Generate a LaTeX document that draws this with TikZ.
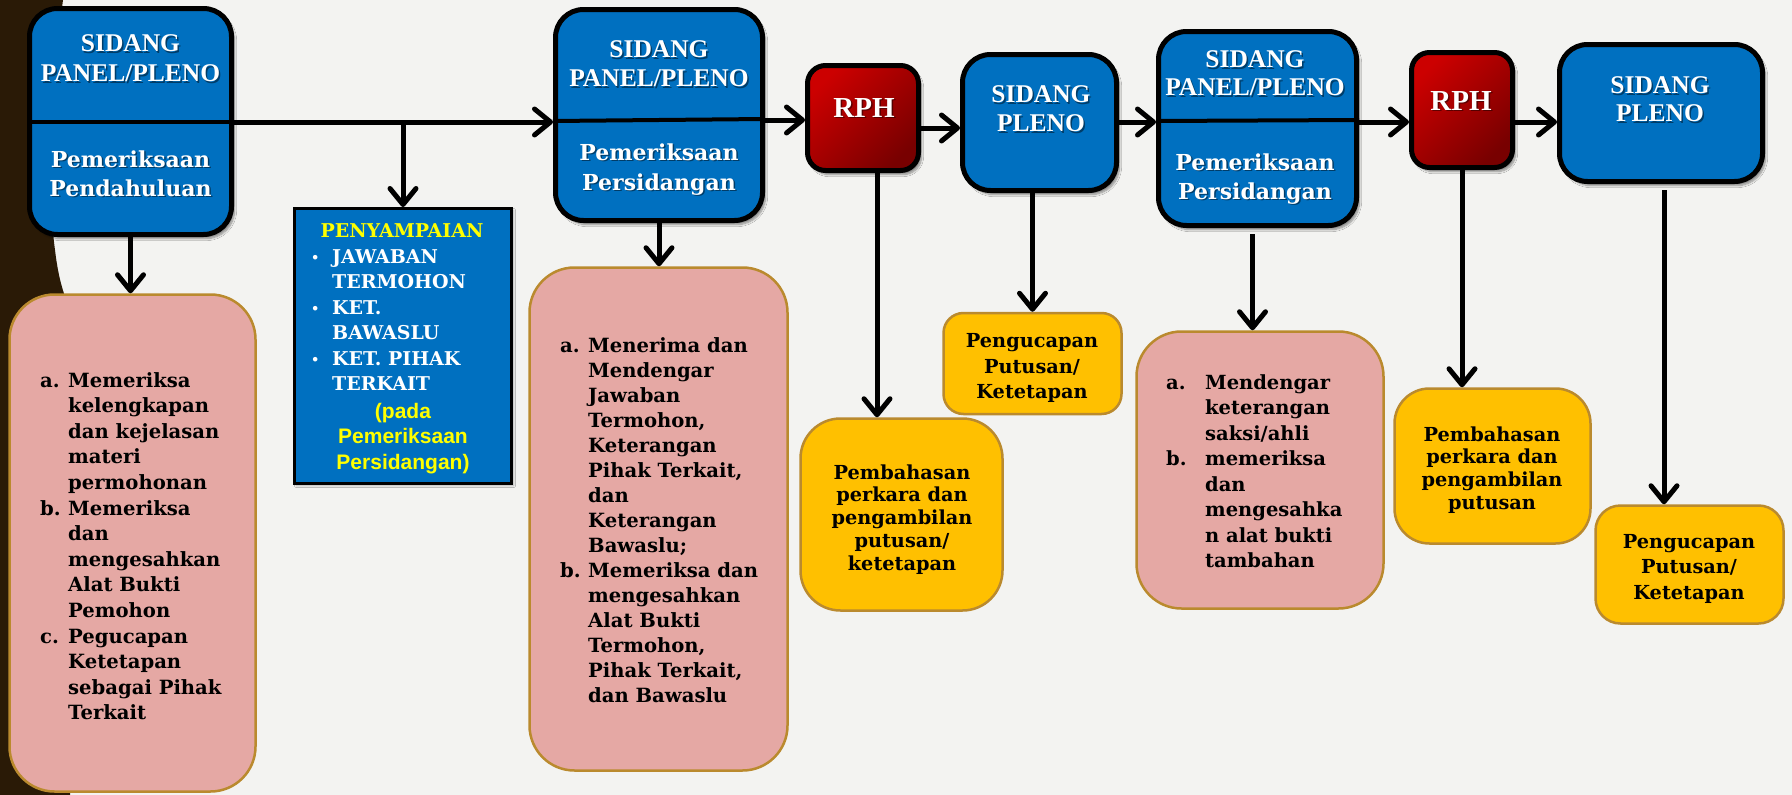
\documentclass[tikz,border=0pt]{standalone}
\usepackage{fontspec}
\setmainfont{DejaVu Serif}
\newfontfamily\tms{Liberation Serif}
\newfontfamily\lsans{Liberation Sans}
\usetikzlibrary{arrows.meta,shadows.blur,calc}
\definecolor{bgc}{HTML}{F3F3F1}
\definecolor{brownbg}{HTML}{2A1A06}
\definecolor{boxblue}{HTML}{0070C0}
\definecolor{pinkf}{HTML}{E5A8A4}
\definecolor{goldb}{HTML}{BA8A2E}
\definecolor{yell}{HTML}{FFC000}
\definecolor{rphA}{HTML}{CC0000}
\definecolor{rphB}{HTML}{780000}
\definecolor{penyyel}{HTML}{FFFF00}
\newcommand\ctab[1]{\begin{tabular}[t]{@{}c@{}}#1\end{tabular}}
\newcommand\ltab[1]{\begin{tabular}[t]{@{}l@{}}#1\end{tabular}}
\newcommand\shtxt[4]{%
  \node[#3,text=black,text opacity=0.45] (#1s) at ($#2+(1.5,1.5)$) {#4};
  \node[#3] (#1) at #2 {#4};}
\newcommand\bul{\makebox[21pt][l]{\raisebox{1pt}{\fontsize{13}{13}\selectfont •}}}
\tikzset{
  blubox/.style={draw=black, line width=5pt, fill=boxblue, rounded corners=28pt, inner sep=0pt,
    blur shadow={shadow xshift=3pt,shadow yshift=-4pt,shadow opacity=45,shadow blur steps=8}},
  rphbox/.style={draw=black, line width=5pt, rounded corners=18pt, inner sep=0pt,
    top color=rphA, bottom color=rphB, shading angle=45,
    blur shadow={shadow xshift=3pt,shadow yshift=-4pt,shadow opacity=45,shadow blur steps=8}},
  pinkbox/.style={draw=goldb, line width=2.5pt, fill=pinkf, rounded corners=45pt, inner sep=0pt},
  yelbox/.style={draw=goldb, line width=2.5pt, fill=yell, inner sep=0pt},
  arr/.style={line width=5pt, -{Straight Barb[length=16pt,width=26pt,round]}},
  divl/.style={line width=4pt},
  wt/.style={text=white, inner sep=0pt, anchor=base},
  hdr/.style={wt, font=\tms\bfseries\fontsize{25.5}{29}\selectfont},
  sub/.style={wt, font=\bfseries\fontsize{22}{29}\selectfont},
  rphtxt/.style={wt, font=\tms\bfseries\fontsize{29}{30}\selectfont},
  bk/.style={text=black, inner sep=0pt, font=\bfseries\fontsize{19.6}{25.6}\selectfont},
}
\begin{document}
\begin{tikzpicture}[x=1pt,y=-1pt]
\useasboundingbox (0,0) rectangle (1792,795);
\fill[bgc] (0,0) rectangle (1792,795);
\fill[brownbg] (0,0) -- (63,0) .. controls (50,100) and (48,200) .. (55,250)
  .. controls (58,275) and (62,290) .. (70,310) -- (70,795) -- (0,795) -- cycle;

% blue boxes
\node[blubox, minimum width=202pt, minimum height=226pt] (b1) at (130.5,121.5) {};
\node[blubox, minimum width=207pt, minimum height=211pt] (b2) at (659,115) {};
\node[blubox, minimum width=198pt, minimum height=194pt] (b3) at (1257.5,128.5) {};
\node[blubox, minimum width=154pt, minimum height=136pt] (sp1) at (1039.5,122.5) {};
\node[blubox, minimum width=203pt, minimum height=137pt] (sp2) at (1661,113) {};
\node[rphbox, minimum width=111pt, minimum height=105pt] (r1) at (863,118) {};
\node[rphbox, minimum width=101pt, minimum height=115pt] (r2) at (1462,110) {};
\node[draw=black, line width=3pt, fill=boxblue, inner sep=0pt, minimum width=217pt, minimum height=275pt,
  blur shadow={shadow xshift=2pt,shadow yshift=-2pt,shadow opacity=30,shadow blur steps=4}] (peny) at (403,346) {};

% pink and yellow boxes
\node[pinkbox, minimum width=246pt, minimum height=497pt] (pk1) at (132.5,543) {};
\node[pinkbox, minimum width=258pt, minimum height=503pt] (pk2) at (658.5,519) {};
\node[pinkbox, minimum width=247pt, minimum height=277pt] (pk3) at (1260,470) {};
\node[yelbox, rounded corners=40pt, minimum width=202pt, minimum height=192pt] (y1) at (901.5,514.5) {};
\node[yelbox, rounded corners=20pt, minimum width=178pt, minimum height=101pt] (y2) at (1032.5,363.5) {};
\node[yelbox, rounded corners=35pt, minimum width=196pt, minimum height=155pt] (y3) at (1492.5,466) {};
\node[yelbox, rounded corners=25pt, minimum width=188pt, minimum height=118pt] (y4) at (1689.5,564.5) {};

% dividers
\draw[divl] (b1.west |- 0,122) -- (b1.east |- 0,122);
\draw[divl] (b2.west |- 0,121) -- (b2.east |- 0,119);
\draw[divl] (b3.west |- 0,121) -- (b3.east |- 0,120);

% connector start points
\coordinate (r1d) at ($(r1.south)+(14,0)$);
\coordinate (b3d) at ($(b3.south)+(-5,6)$);
\coordinate (sp2d) at ($(sp2.south)+(3,6)$);

% connectors
\draw[arr] (b1.east |- 0,122) -- (b2.west |- 0,122);
\draw[arr] (peny.north |- 0,122) -- (peny.north);
\draw[arr] (b1.south) -- (b1.south |- pk1.north);
\draw[arr] (b2.east |- 0,120) -- (r1.west |- 0,120);
\draw[arr] (b2.south) -- (b2.south |- pk2.north);
\draw[arr] (r1.east |- 0,128) -- (sp1.west |- 0,128);
\draw[arr] (r1d) -- (r1d |- y1.north);
\draw[arr] (sp1.south -| y2.north) -- (y2.north);
\draw[arr] (sp1.east |- 0,122) -- (b3.west |- 0,122);
\draw[arr] (b3d) -- (b3d |- pk3.north);
\draw[arr] (b3.east |- 0,122) -- (r2.west |- 0,122);
\draw[arr] (r2.south) -- (r2.south |- y3.north);
\draw[arr] (r2.east |- 0,122) -- (sp2.west |- 0,122);
\draw[arr] (sp2d) -- (sp2d |- y4.north);

% texts in blue boxes
\shtxt{t1a}{(130.5,51.5)}{hdr, font=\tms\bfseries\fontsize{25.5}{30}\selectfont}{\ctab{SIDANG\\PANEL/PLENO}}
\shtxt{t1b}{(130.5,167)}{sub}{\ctab{Pemeriksaan\\Pendahuluan}}
\shtxt{t2a}{(659,57.5)}{hdr}{\ctab{SIDANG\\PANEL/PLENO}}
\shtxt{t2b}{(659,160)}{sub, font=\bfseries\fontsize{22}{30}\selectfont}{\ctab{Pemeriksaan\\Persidangan}}
\shtxt{t3a}{(1255,67.5)}{hdr, font=\tms\bfseries\fontsize{25.5}{28}\selectfont}{\ctab{SIDANG\\PANEL/PLENO}}
\shtxt{t3b}{(1255,170)}{sub}{\ctab{Pemeriksaan\\Persidangan}}
\shtxt{ts1}{(1041,102.5)}{hdr}{\ctab{SIDANG\\PLENO}}
\shtxt{ts2}{(1660,93.5)}{hdr, font=\tms\bfseries\fontsize{25.5}{28}\selectfont}{\ctab{SIDANG\\PLENO}}
\shtxt{tr1}{(864,117)}{rphtxt}{RPH}
\shtxt{tr2}{(1461,110)}{rphtxt}{RPH}

% penyampaian
\node[anchor=base, inner sep=0pt, text=penyyel, font=\bfseries\fontsize{19}{25.5}\selectfont] (pt) at (402,237.5) {PENYAMPAIAN};
\node[anchor=base west, inner sep=0pt, text=white, font=\bfseries\fontsize{19}{25.4}\selectfont] (pl) at (311,263.5)
  {\ltab{\bul JAWABAN\\\hspace*{21pt}TERMOHON\\\bul KET.\\\hspace*{21pt}BAWASLU\\\bul KET. PIHAK\\\hspace*{21pt}TERKAIT}};
\node[anchor=base, inner sep=0pt, text=penyyel, font=\lsans\bfseries\fontsize{21}{25.5}\selectfont] (pp) at (403,418)
  {\ctab{(pada\\Pemeriksaan\\Persidangan)}};

% pink texts
\node[bk, anchor=base west] (pk1t) at (40,387) {\ltab{%
\makebox[28pt][l]{a.}Memeriksa\\\hspace*{28pt}kelengkapan\\\hspace*{28pt}dan kejelasan\\\hspace*{28pt}materi\\\hspace*{28pt}permohonan\\
\makebox[28pt][l]{b.}Memeriksa\\\hspace*{28pt}dan\\\hspace*{28pt}mengesahkan\\\hspace*{28pt}Alat Bukti\\\hspace*{28pt}Pemohon\\
\makebox[28pt][l]{c.}Pegucapan\\\hspace*{28pt}Ketetapan\\\hspace*{28pt}sebagai Pihak\\\hspace*{28pt}Terkait}};
\node[bk, anchor=base west, font=\bfseries\fontsize{19.6}{25}\selectfont] (pk2t) at (560,352) {\ltab{%
\makebox[28pt][l]{a.}Menerima dan\\\hspace*{28pt}Mendengar\\\hspace*{28pt}Jawaban\\\hspace*{28pt}Termohon,\\\hspace*{28pt}Keterangan\\\hspace*{28pt}Pihak Terkait,\\\hspace*{28pt}dan\\\hspace*{28pt}Keterangan\\\hspace*{28pt}Bawaslu;\\
\makebox[28pt][l]{b.}Memeriksa dan\\\hspace*{28pt}mengesahkan\\\hspace*{28pt}Alat Bukti\\\hspace*{28pt}Termohon,\\\hspace*{28pt}Pihak Terkait,\\\hspace*{28pt}dan Bawaslu}};
\node[bk, anchor=base west, font=\bfseries\fontsize{19.5}{25.5}\selectfont] (pk3t) at (1166,389) {\ltab{%
\makebox[39pt][l]{a.}Mendengar\\\hspace*{39pt}keterangan\\\hspace*{39pt}saksi/ahli\\
\makebox[39pt][l]{b.}memeriksa\\\hspace*{39pt}dan\\\hspace*{39pt}mengesahka\\\hspace*{39pt}n alat bukti\\\hspace*{39pt}tambahan}};

% yellow texts
\node[bk, anchor=base, font=\bfseries\fontsize{19.3}{22.8}\selectfont] (y1t) at (902,479) {\ctab{Pembahasan\\perkara dan\\pengambilan\\putusan/\\ketetapan}};
\node[bk, anchor=base, font=\bfseries\fontsize{19.3}{25.5}\selectfont] (y2t) at (1032,347.5) {\ctab{Pengucapan\\Putusan/\\Ketetapan}};
\node[bk, anchor=base, font=\bfseries\fontsize{19.3}{22.7}\selectfont] (y3t) at (1492,441) {\ctab{Pembahasan\\perkara dan\\pengambilan\\putusan}};
\node[bk, anchor=base, font=\bfseries\fontsize{19.3}{25.5}\selectfont] (y4t) at (1689,548) {\ctab{Pengucapan\\Putusan/\\Ketetapan}};
\end{tikzpicture}
\end{document}
